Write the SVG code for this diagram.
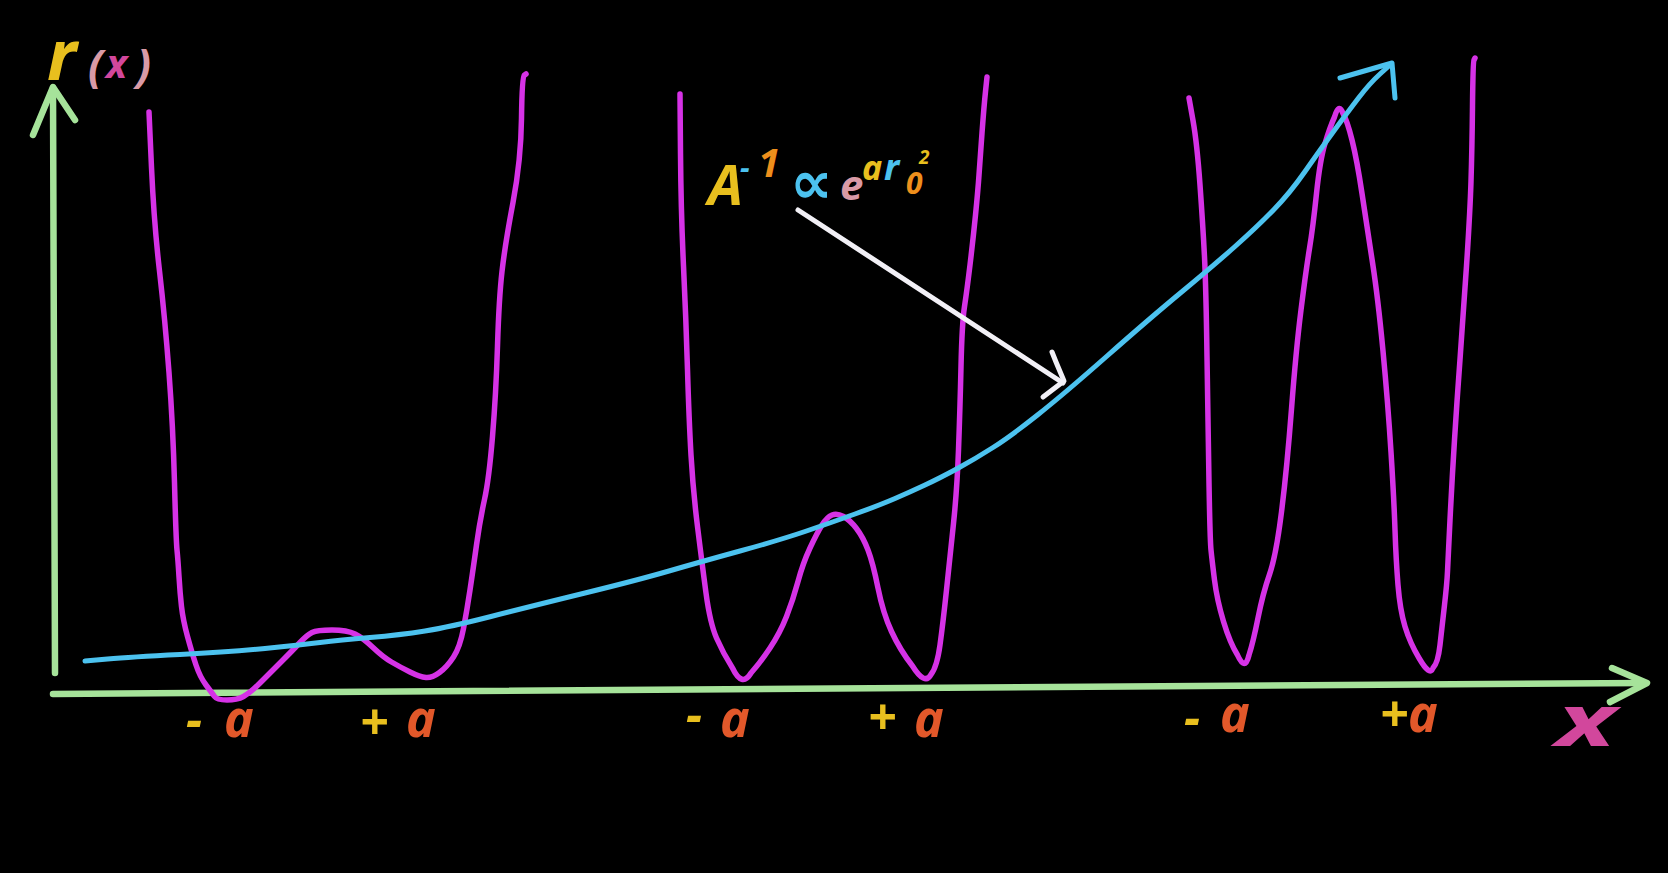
<svg xmlns="http://www.w3.org/2000/svg" width="1668" height="873" viewBox="0 0 1668 873">
<style>
.bg{fill:#000}
.ax{fill:none;stroke:#a6e39a;stroke-width:6.5;stroke-linecap:round;stroke-linejoin:round}
.well{fill:none;stroke:#d632e6;stroke-width:5.5;stroke-linecap:round;stroke-linejoin:round}
.blue{fill:none;stroke:#4cc2ef;stroke-width:5;stroke-linecap:round;stroke-linejoin:round}
.wht{fill:none;stroke:#f2f0f6;stroke-width:5;stroke-linecap:round;stroke-linejoin:round}
text{font-family:"Noto Sans","DejaVu Sans",sans-serif;font-style:italic;font-weight:bold}
.yel{fill:#e8bf1e}
.org{fill:#e2582a}
.org2{fill:#ee8f1c}
.cyn{fill:#4cc2ef}
.pnk{fill:#d99aa6}
.mag{fill:#d2479c}
</style>
<rect class="bg" x="0" y="0" width="1668" height="873"/>
<g id="axes">
  <path class="ax" d="M55,673 L53,88"/>
  <path class="ax" d="M33,135 L53,87 L75,120"/>
  <path class="ax" d="M53,694 L1645,683"/>
  <path class="ax" d="M1612,668 L1647,683 L1610,702"/>
</g>
<g id="wells">
  <path id="well1" class="well" d="M149,112 L151.5,167.5 Q154,223 159.5,271 Q165,319 169,372.5 Q173,426 174.5,483 Q176,540 177,550 Q178,560 179,576.5 Q180,593 181.5,606.5 Q183,620 187.5,636.5 Q192,653 196,665 Q200,677 206,685 Q212,693 214.5,696.5 Q217,700 227,700 Q237,700 243.5,696.5 Q250,693 260,683 Q270,673 281.5,661.5 Q293,650 300,642.5 Q307,635 312,632.5 Q317,630 332,630 Q347,630 355,634 Q363,638 373,647.5 Q383,657 391.5,662 Q400,667 410,672 Q420,677 426,677.5 Q432,678 439.5,672.5 Q447,667 453.5,657 Q460,647 463.5,628.5 Q467,610 470,590 Q473,570 476.5,545 Q480,520 484.5,499.5 Q489,479 492.5,436.5 Q496,394 497.5,346 Q499,298 502,271.5 Q505,245 513,202.5 Q521,160 521.5,118.5 Q522,77 524,75.5 L526,74"/>
  <path id="well2" class="well" d="M680,94 L680.5,153.5 Q681,213 683.5,266 Q686,319 687.5,369.5 Q689,420 691,455 Q693,490 697.5,526.5 Q702,563 706,593 Q710,623 716.5,638 Q723,653 732.5,668 Q742,688 751,673 Q760,663 770,648 Q780,633 786.5,616.5 Q793,600 798,581.5 Q803,563 810,548 Q817,533 822,525 Q827,517 832,515 Q837,513 843.5,516.5 Q850,520 856.5,528.5 Q863,537 868,550 Q873,563 878,588 Q883,613 891.5,631.5 Q900,650 912.5,666 Q925,686 931,674.5 Q937,667 940,645 Q943,623 946.5,590 Q950,557 953.5,523.5 Q957,490 958.5,450 Q960,410 961,366.5 Q962,323 964.5,306.5 Q967,290 970,265 Q973,240 975.5,215 Q978,190 979,175 Q980,160 982,133 Q984,106 985.5,91.5 L987,77"/>
  <path id="well3" class="well" d="M1189,98 L1193,120.5 Q1197,143 1200,185 Q1203,227 1204.5,257 Q1206,287 1207,356.5 Q1208,426 1209,483 Q1210,540 1211,550 Q1212,560 1214.5,580 Q1217,600 1223.5,621.5 Q1230,643 1237.5,655 Q1245,672 1249,655 Q1253,643 1258,618 Q1263,593 1269.5,574.5 Q1276,556 1281.5,512 Q1287,468 1291.5,409 Q1296,350 1301,310 Q1306,270 1309.5,248.5 Q1313,227 1316.5,193.5 Q1320,160 1325,143.5 Q1330,127 1334.5,117 Q1339,102 1343,113.5 Q1347,120 1352,140 Q1357,160 1362,193.5 Q1367,227 1372.5,262.5 Q1378,298 1383,351 Q1388,404 1391,452 Q1394,500 1395,530 Q1396,560 1398,585 Q1400,610 1405,626.5 Q1410,643 1419,658 Q1430,677 1433,668 Q1438,663 1440,645 Q1442,627 1444.5,605 Q1447,583 1447.5,571.5 Q1448,560 1450,520 Q1452,480 1454.5,440 Q1457,400 1460,359.5 Q1463,319 1466.5,266 Q1470,213 1471,181.5 Q1472,150 1472.5,106 Q1473,62 1474,60 L1475,58"/>
</g>
<g id="connectors">
  <path id="growth" class="blue" d="M85,661 L107.5,659 Q130,657 180,654.5 Q230,652 265,648.5 Q300,645 320,642.5 Q340,640 370,637.5 Q400,635 425,631 Q450,627 491,616.5 Q532,606 585,593 Q638,580 669,571 Q700,562 740,551 Q780,540 805,531.5 Q830,523 855,514 Q880,505 895,498.5 Q910,492 925,485 Q940,478 957.5,468.5 Q975,459 993,447.5 Q1011,436 1037.5,415 Q1064,394 1106.5,356.5 Q1149,319 1181,292.5 Q1213,266 1235,246.5 Q1257,227 1273.5,210 Q1290,193 1305,171.5 Q1320,150 1333.5,131.5 Q1347,113 1358.5,98 Q1370,83 1380,74 L1390,65"/>
  <path class="blue" d="M1340,78 L1392,63 L1395,98"/>
  <path id="pointer" class="wht" d="M798,210 L1063,383"/>
  <path class="wht" d="M1052,352 L1056,362 L1064,381 L1043,397"/>
</g>
<g id="ylabel">
  <text class="yel" x="47" y="80" font-size="70">r</text>
  <text class="pnk" x="88" y="82" font-size="44">(</text>
  <text class="mag" x="106" y="78" font-size="40">x</text>
  <text class="pnk" x="136" y="82" font-size="44">)</text>
</g>
<g id="formula">
  <text class="yel" x="708" y="205" font-size="56">A</text>
  <text class="cyn" x="740" y="178" font-size="30">-</text>
  <text class="org2" x="758" y="177" font-size="40">1</text>
  <text class="cyn" x="790" y="203" font-size="60">∝</text>
  <text class="pnk" x="840" y="200" font-size="42">e</text>
  <text class="yel" x="862" y="180" font-size="34">a</text>
  <text class="cyn" x="884" y="180" font-size="36">r</text>
  <text class="yel" x="919" y="164" font-size="19">2</text>
  <text class="org2" x="906" y="194" font-size="30">0</text>
</g>
<g id="labels">
  <text class="yel" x="186" y="737" font-size="50">-</text>
  <text class="org" x="224" y="737" font-size="50">a</text>
  <text class="yel" x="360" y="740" font-size="50">+</text>
  <text class="org" x="406" y="737" font-size="50">a</text>
  <text class="yel" x="686" y="732" font-size="50">-</text>
  <text class="org" x="720" y="737" font-size="50">a</text>
  <text class="yel" x="868" y="735" font-size="50">+</text>
  <text class="org" x="914" y="737" font-size="50">a</text>
  <text class="yel" x="1184" y="735" font-size="50">-</text>
  <text class="org" x="1220" y="732" font-size="50">a</text>
  <text class="yel" x="1380" y="732" font-size="50">+</text>
  <text class="org" x="1408" y="732" font-size="50">a</text>
  <text class="mag" x="1556" y="746" font-size="72" textLength="60" lengthAdjust="spacingAndGlyphs">x</text>
</g>
</svg>
